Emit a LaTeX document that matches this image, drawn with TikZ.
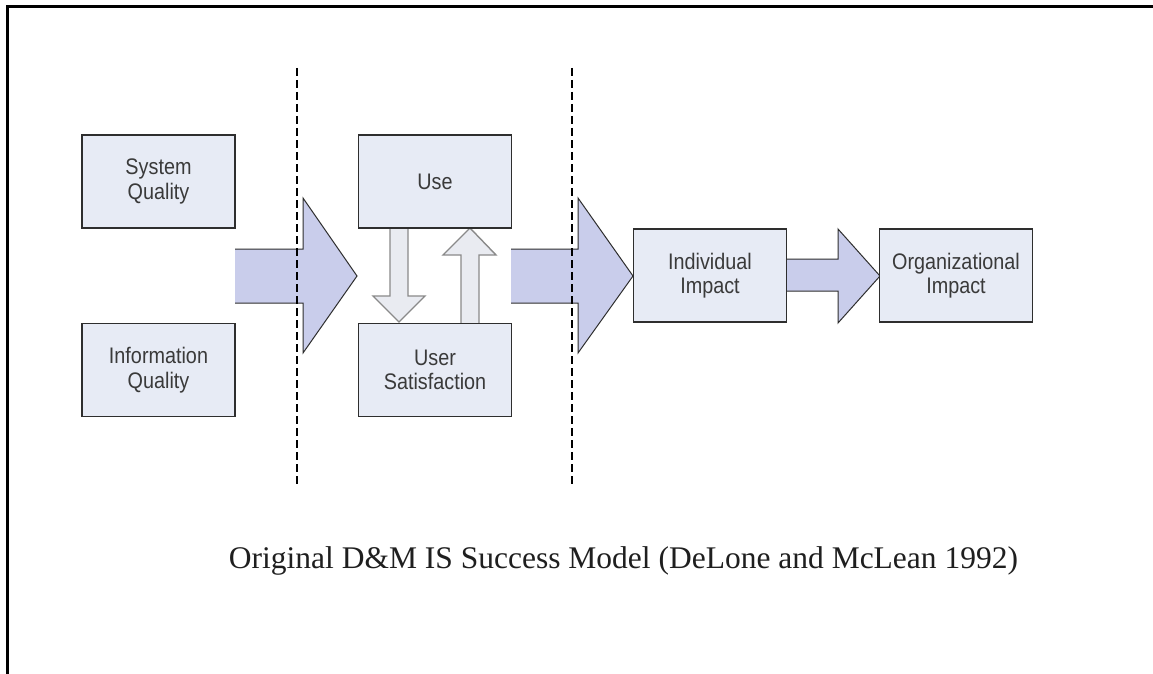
\documentclass[tikz,border=0pt]{standalone}
\usepackage{fontspec}
\setmainfont{Liberation Serif}
\newfontfamily\boxfont{Liberation Sans}[FakeStretch=0.88]
\usetikzlibrary{calc}
\definecolor{boxfill}{HTML}{E7EBF5}
\definecolor{boxline}{HTML}{2E2E2E}
\definecolor{boxtext}{HTML}{3A3A3A}
\definecolor{bigfill}{HTML}{C9CDEB}
\definecolor{smallfill}{HTML}{E9EBF1}
\definecolor{smallline}{HTML}{8A8A8A}
\begin{document}
\begin{tikzpicture}[x=1pt,y=-1pt,
  factor/.style={draw=boxline,line width=1.3pt,fill=boxfill,
    minimum width=153pt,minimum height=93pt,inner sep=0pt,
    align=center,text=boxtext,font=\boxfont\fontsize{22.5}{24.5}\selectfont},
  bigfillstyle/.style={fill=bigfill},
  bigline/.style={draw=boxline,line width=1pt,line join=miter},
  smallfillstyle/.style={fill=smallfill},
  smallline/.style={draw=smallline,line width=1.4pt,line join=miter},
  divider/.style={draw=black,line width=1.3pt,dash pattern=on 8pt off 4pt},
  frameline/.style={draw=black,line width=3pt}]
\useasboundingbox (0,0) rectangle (1153,674);
\fill[white] (0,0) rectangle (1153,674);

% page frame (left and top edges)
\draw[frameline] (7.5,674) -- (7.5,6.5) -- (1153,6.5);

% block arrows between stages
\fill[bigfillstyle] (235,249) -- (303,249) -- (303,198) -- (357,276) -- (303,353) -- (303,303) -- (235,303) -- cycle;
\draw[bigline] (235,249) -- (303,249) -- (303,198) -- (357,276) -- (303,353) -- (303,303) -- (235,303);

\fill[bigfillstyle] (511,249) -- (578,249) -- (578,198) -- (633,276) -- (578,353) -- (578,303) -- (511,303) -- cycle;
\draw[bigline] (511,249) -- (578,249) -- (578,198) -- (633,276) -- (578,353) -- (578,303) -- (511,303);

\fill[bigfillstyle] (787,259) -- (838,259) -- (838,229) -- (880,276) -- (838,323) -- (838,291) -- (787,291) -- cycle;
\draw[bigline] (787,259) -- (838,259) -- (838,229) -- (880,276) -- (838,323) -- (838,291) -- (787,291);

% use -> satisfaction and back
\fill[smallfillstyle] (390,228) -- (390,296) -- (373,296) -- (399,322) -- (425,296) -- (408,296) -- (408,228) -- cycle;
\draw[smallline] (390,228) -- (390,296) -- (373,296) -- (399,322) -- (425,296) -- (408,296) -- (408,228);

\fill[smallfillstyle] (461,323) -- (461,255) -- (443,255) -- (470,228) -- (496,255) -- (479,255) -- (479,323) -- cycle;
\draw[smallline] (461,323) -- (461,255) -- (443,255) -- (470,228) -- (496,255) -- (479,255) -- (479,323);

% factor boxes
\node[factor] (sq)  at (158.5,181.5) {System\\Quality};
\node[factor] (iq)  at (158.5,370)   {Information\\Quality};
\node[factor] (use) at (435,181.5)   {Use};
\node[factor] (us)  at (435,370)     {User\\Satisfaction};
\node[factor] (ii)  at (710,275.5)   {Individual\\Impact};
\node[factor] (oi)  at (956,275.5)   {Organizational\\Impact};

% stage dividers
\coordinate (d1top) at (297,68);
\coordinate (d1bot) at (297,487);
\coordinate (d2top) at (572,68);
\coordinate (d2bot) at (572,487);
\draw[divider] (d1top) -- (d1bot);
\draw[divider] (d2top) -- (d2bot);

% caption
\node[anchor=base,inner sep=0pt,text=black!88,font=\fontsize{31.5}{36}\selectfont] (caption) at (623.5,568)
  {Original D\&M IS Success Model (DeLone and McLean 1992)};
\end{tikzpicture}
\end{document}
